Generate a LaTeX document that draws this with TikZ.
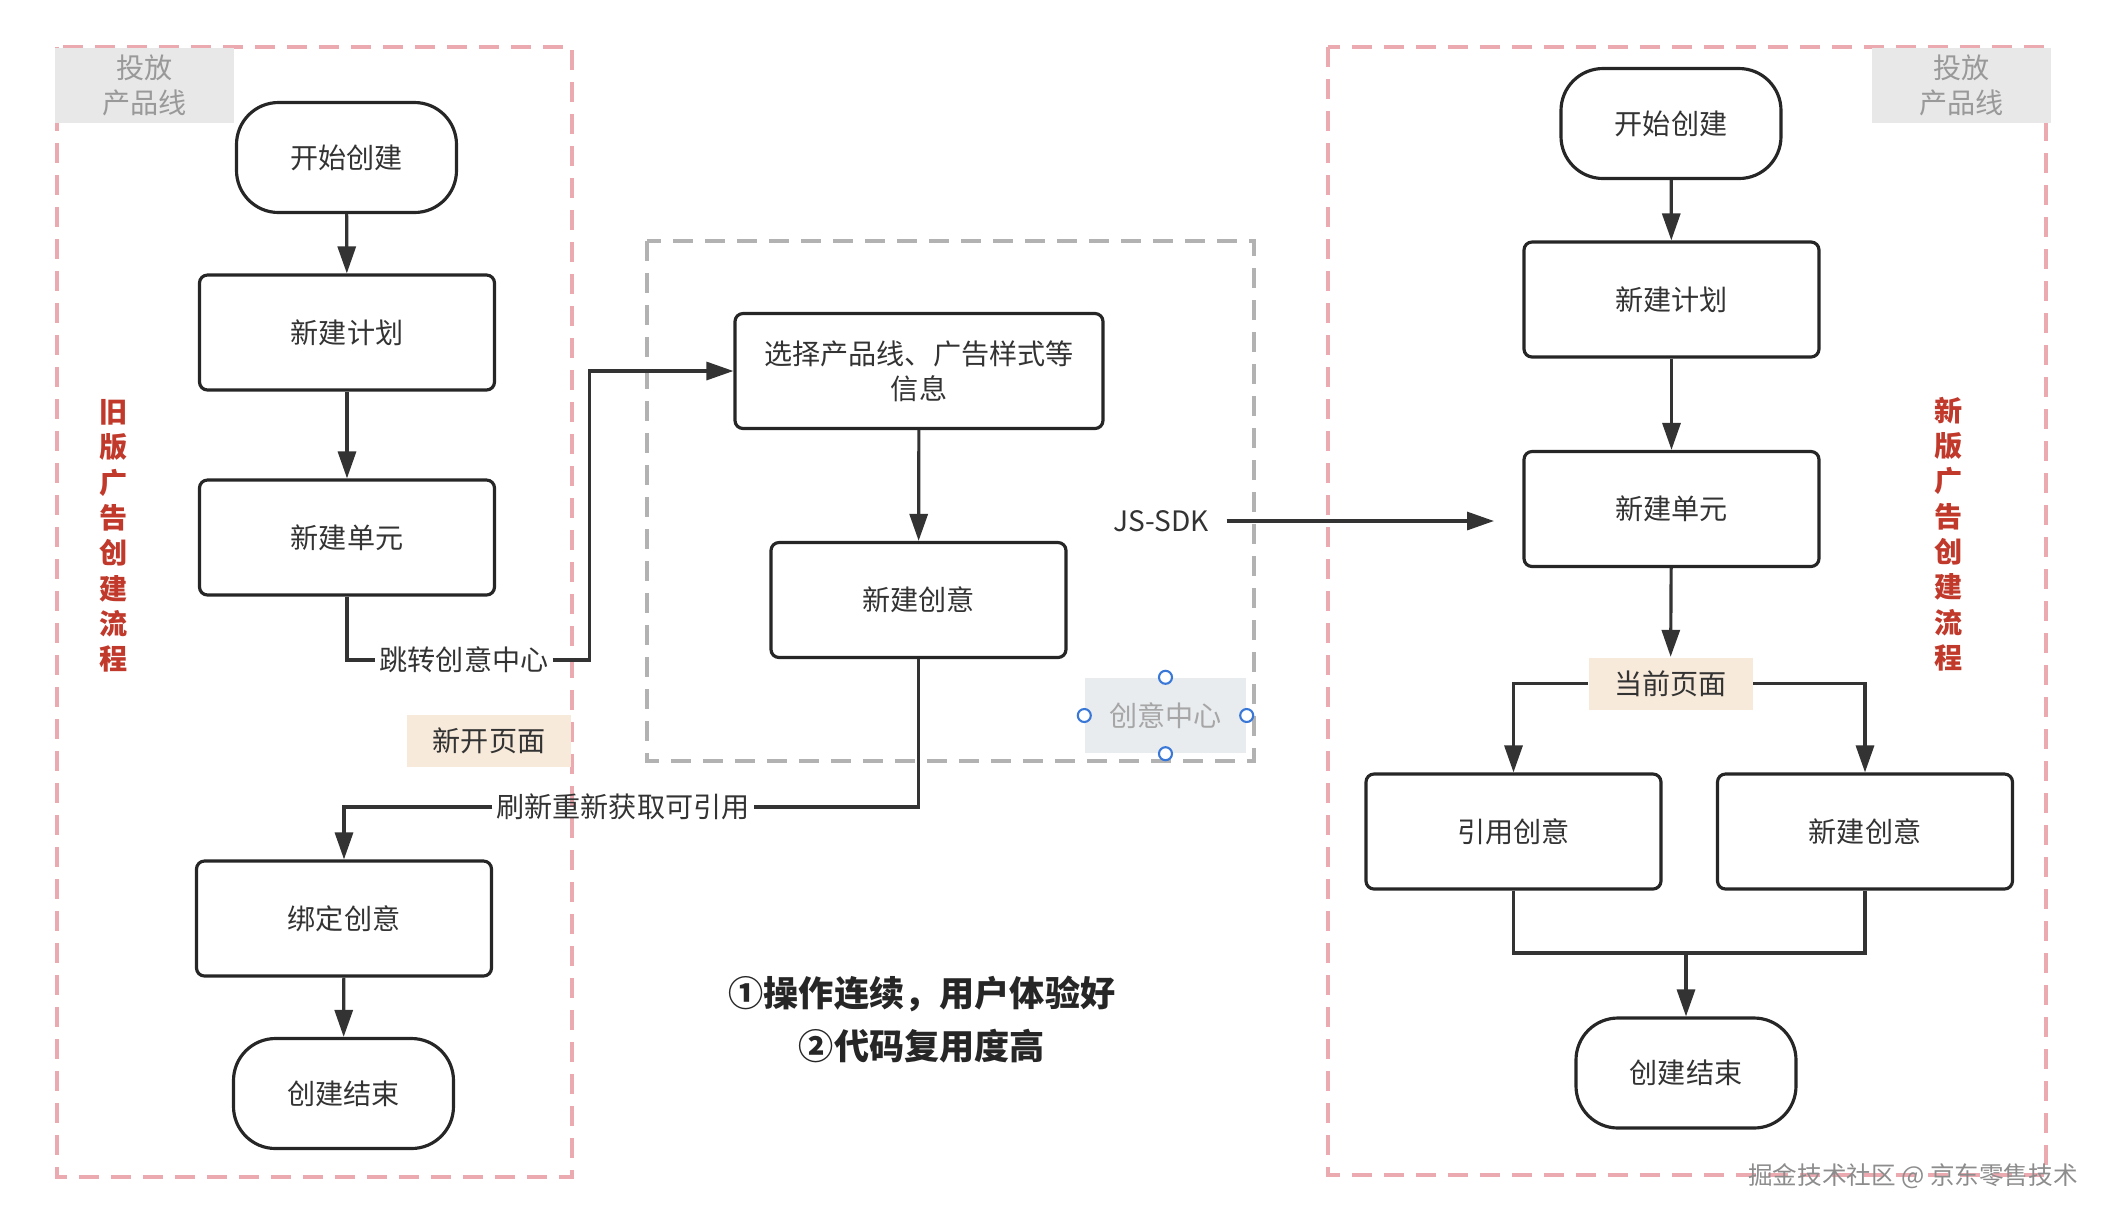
\documentclass[tikz,border=0pt]{standalone}
\usepackage{fontspec}
\setmainfont{Noto Sans CJK SC}
\usepackage{xcolor}
\usetikzlibrary{arrows.meta}

\definecolor{ink}{HTML}{333333}
\definecolor{lanered}{HTML}{EBAAB0}
\definecolor{titlered}{HTML}{C0392B}
\definecolor{tagbg}{HTML}{F7EADB}
\definecolor{labelbg}{HTML}{E8E8E8}
\definecolor{hubbg}{HTML}{E9ECEF}
\definecolor{handleblue}{HTML}{3A78D8}

\begin{document}
\begin{tikzpicture}[
    txt/.style={font=\fontsize{8}{10}\selectfont, text=ink},
    box/.style={txt, draw=black!85, line width=0.9pt, rounded corners=0.08cm,
      minimum width=2.95cm, minimum height=1.15cm, inner sep=0pt},
    term/.style={box, rounded corners=0.42cm, minimum width=2.2cm, minimum height=1.1cm},
    tag/.style={txt, fill=tagbg, minimum width=1.64cm, minimum height=0.52cm, inner sep=0pt},
    lanetag/.style={txt, fill=labelbg, text=black!40, align=center,
      minimum width=1.79cm, minimum height=0.75cm, inner sep=0pt},
    lane/.style={draw=lanered, line width=0.9pt, dash pattern=on 0.2cm off 0.12cm},
    title/.style={font=\bfseries\fontsize{8}{10.05}\selectfont, text=titlered, align=center},
    lbl/.style={txt, inner sep=1pt},
    arr/.style={draw=ink, line width=0.9pt, -{Triangle[length=2.7mm,width=1.8mm]}},
    wire/.style={draw=ink, line width=0.9pt},
    handle/.style={draw=handleblue, fill=white, line width=0.6pt}
  ]
    \useasboundingbox (0,0) rectangle (21.12,-12.20);

    \draw[lane] (0.57,-0.47) rectangle (5.72,-11.77);
    \draw[lane] (13.28,-0.47) rectangle (20.46,-11.75);
    \draw[draw=black!30, line width=0.9pt, dash pattern=on 0.2cm off 0.12cm]
      (6.47,-2.41) rectangle (12.54,-7.61);

    \node[lanetag] (ltag) at (1.445,-0.855) {投放\\产品线};
    \node[lanetag] (rtag) at (19.615,-0.855) {投放\\产品线};
    \node[title] (oldtitle) at (1.14,-5.36) {旧\\版\\广\\告\\创\\建\\流\\程};
    \node[title] (newtitle) at (19.49,-5.34) {新\\版\\广\\告\\创\\建\\流\\程};

    \node[term] (lstart) at (3.465,-1.575) {开始创建};
    \node[box] (lplan) at (3.47,-3.325) {新建计划};
    \node[box] (lunit) at (3.47,-5.375) {新建单元};
    \node[tag] (newpage) at (4.89,-7.41) {新开页面};
    \node[box] (bind) at (3.44,-9.185) {绑定创意};
    \node[term] (lend) at (3.435,-10.935) {创建结束};

    \node[box, minimum width=3.68cm, align=center] (select) at (9.19,-3.71)
      {选择产品线、广告样式等\\信息};
    \node[box] (mcreate) at (9.185,-6.00) {新建创意};
    \node[txt, fill=hubbg, text=black!35, minimum width=1.61cm, minimum height=0.75cm,
      inner sep=0pt] (hub) at (11.655,-7.155) {创意中心};
    \node[txt, inner sep=0.17cm] (sdk) at (11.61,-5.21) {JS-SDK};
    \coordinate (sdkend) at (14.94,-5.21);

    \node[term] (rstart) at (16.71,-1.235) {开始创建};
    \node[box] (rplan) at (16.715,-2.995) {新建计划};
    \node[box] (runit) at (16.715,-5.09) {新建单元};
    \node[tag] (curpage) at (16.705,-6.835) {当前页面};
    \node[box] (ref) at (15.135,-8.315) {引用创意};
    \node[box] (rnew) at (18.65,-8.315) {新建创意};
    \node[term] (rend) at (16.86,-10.73) {创建结束};
    \coordinate (join) at (16.86,-9.53);

    \node[lbl] (jump) at (4.64,-6.60) {跳转创意中心};
    \node[lbl] (refresh) at (6.23,-8.07) {刷新重新获取可引用};

    \draw[arr] (lstart) -- (lplan);
    \draw[arr] (lplan) -- (lunit);
    \draw[wire] (lunit.south) |- (jump.west);
    \draw[arr] (jump.east) -- ++(0.37,0) |- (select.west);
    \draw[arr] (select) -- (mcreate);
    \draw[wire] (mcreate.south) |- (refresh.east);
    \draw[arr] (refresh.west) -| (bind.north);
    \draw[arr] (bind) -- (lend);

    \draw[arr] (sdk.east) -- (sdkend);

    \draw[arr] (rstart) -- (rplan);
    \draw[arr] (rplan) -- (runit);
    \draw[arr] (runit) -- (curpage);
    \draw[arr] (curpage.west) -| (ref.north);
    \draw[arr] (curpage.east) -| (rnew.north);
    \draw[wire] (ref.south) |- (join) -| (rnew.south);
    \draw[arr] (join) -- (rend.north);

    \foreach \a in {north,south,east,west}
      \draw[handle] (hub.\a) circle (0.065);

    \node[font=\bfseries\fontsize{10}{15}\selectfont, text=black!85, align=center]
      (gains) at (9.22,-10.195) {①操作连续，用户体验好\\②代码复用度高};
    \node[font=\fontsize{7}{8}\selectfont, text=black!45] (mark) at (19.13,-11.76)
      {掘金技术社区 @ 京东零售技术};
  \end{tikzpicture}
\end{document}
